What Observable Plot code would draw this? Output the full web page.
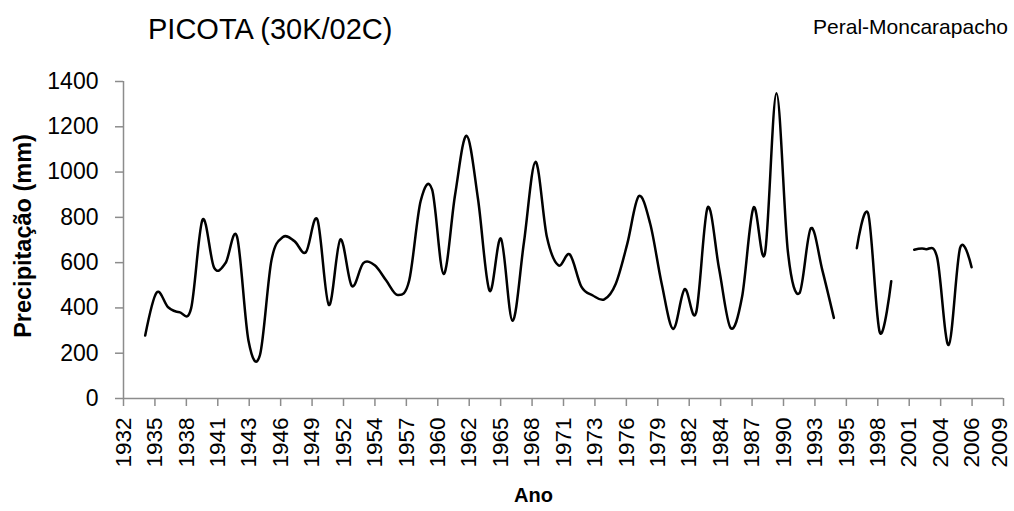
<!DOCTYPE html>
<html>
<head>
<meta charset="utf-8">
<script src="https://cdn.jsdelivr.net/npm/d3@7"></script>
<script src="https://cdn.jsdelivr.net/npm/@observablehq/plot@0.6"></script>
<style>
  html, body { margin: 0; padding: 0; background: #fff; }
  #wrap { position: relative; width: 1014px; height: 511px; overflow: hidden; }
  #header { position: relative; width: 1014px; height: 50px; }
  #title { position: absolute; left: 148px; top: 14.5px; font: 29px/29px "Liberation Sans", Arial, sans-serif; color: #000; white-space: nowrap; }
  #subtitle { position: absolute; right: 6px; top: 16px; font: 21px/21px "Liberation Sans", Arial, sans-serif; color: #000; white-space: nowrap; }
</style>
</head>
<body>
<div id="wrap">
  <div id="header">
    <div id="title">PICOTA (30K/02C)</div>
    <div id="subtitle">Peral-Moncarapacho</div>
  </div>
  <div id="chart"></div>
</div>
<script>
// Hydrological years and annual precipitation (mm); null = missing year
const years = [
  1934,1935,1936,1937,1938,1939,1940,1941,1942,1943,
  1944,1945,1946,1947,1948,1949,1950,1951,1952,1953,
  1954,1955,1956,1957,1958,1959,1960,1961,1962,1963,
  1964,1965,1966,1967,1968,1969,1970,1971,1972,1973,
  1974,1975,1976,1977,1978,1979,1980,1981,1982,1983,
  1984,1985,1986,1987,1988,1989,1990,1991,1992,1993,
  1994,1995,1996,1997,1998,1999,2000,2001,2002,2003,
  2004,2005,2006
];
const precipitation = [
  278,468,403,381,398,790,578,598,715,255,
  192,610,713,695,646,790,413,702,497,598,
  588,521,457,521,872,922,550,900,1160,880,
  476,706,343,690,1045,713,588,636,494,455,
  438,507,683,893,772,507,307,483,379,843,
  573,312,448,843,642,1348,646,465,752,566,
  356,null,664,815,292,518,null,657,660,622,
  236,665,580
];
// x axis tick labels (evenly spaced date-axis labels)
const xTickLabels = [
  "1932","1935","1938","1941","1943","1946","1949","1952","1954","1957",
  "1960","1962","1965","1968","1971","1973","1976","1979","1982","1984",
  "1987","1990","1993","1995","1998","2001","2004","2006","2009"
];
const yTicks = [0,200,400,600,800,1000,1200,1400];

const data = years.map((y, i) => ({year: y, value: precipitation[i]}));

const x0 = 1932.11, x1 = 2008.78;
const step = (x1 - x0) / (xTickLabels.length - 1);
const xTickPos = xTickLabels.map((_, i) => x0 + i * step);
const lastIdx = xTickLabels.length - 1;
const labelOf = d => xTickLabels[Math.round((d - x0) / step)];

const tickFont = "'Liberation Sans', Arial, sans-serif";
const axisGray = "#8c8c8c";

const xAxisText = {
  tickRotate: -90,
  tickPadding: 11,
  textAnchor: "end",
  lineAnchor: "middle",
  fontSize: 22.5,
  fontFamily: tickFont,
  stroke: axisGray,
  strokeWidth: 1.5,
  fill: "#000",
  label: null
};

const chart = Plot.plot({
  width: 1014,
  height: 461,
  marginLeft: 123,
  marginRight: 11,
  marginTop: 31,
  marginBottom: 113,
  style: { background: "#fff", overflow: "visible" },
  x: { type: "linear", domain: [x0, x1] },
  y: { domain: [0, 1400] },
  marks: [
    Plot.ruleY([0], { stroke: axisGray, strokeWidth: 1.5 }),
    Plot.ruleX([x0], { stroke: axisGray, strokeWidth: 1.5 }),
    Plot.axisX({
      ...xAxisText,
      ticks: xTickPos,
      tickFormat: d => (Math.round((d - x0) / step) === lastIdx ? "" : labelOf(d)),
      tickSize: 8
    }),
    Plot.axisX({
      ...xAxisText,
      ticks: [xTickPos[lastIdx]],
      tickFormat: labelOf,
      tickSize: 0,
      tickPadding: 19,
      dx: -4
    }),
    Plot.axisY({
      ticks: yTicks,
      tickFormat: d => String(d),
      tickSize: 8,
      tickPadding: 17,
      fontSize: 23,
      fontFamily: tickFont,
      stroke: axisGray,
      strokeWidth: 1.5,
      fill: "#000",
      label: null
    }),
    Plot.line(data, {
      x: "year",
      y: "value",
      curve: "cardinal",
      stroke: "#000",
      strokeWidth: 2.5
    }),
    Plot.text(["Precipitação (mm)"], {
      text: d => d,
      frameAnchor: "left",
      textAnchor: "middle",
      rotate: -90,
      dx: -100,
      dy: -4,
      fontSize: 23.5,
      fontWeight: "bold",
      fontFamily: tickFont,
      fill: "#000"
    }),
    Plot.text(["Ano"], {
      text: d => d,
      frameAnchor: "bottom",
      textAnchor: "middle",
      dx: -30,
      dy: 103,
      fontSize: 20,
      fontWeight: "bold",
      fontFamily: tickFont,
      fill: "#000"
    })
  ]
});
document.getElementById("chart").appendChild(chart);
</script>
</body>
</html>
